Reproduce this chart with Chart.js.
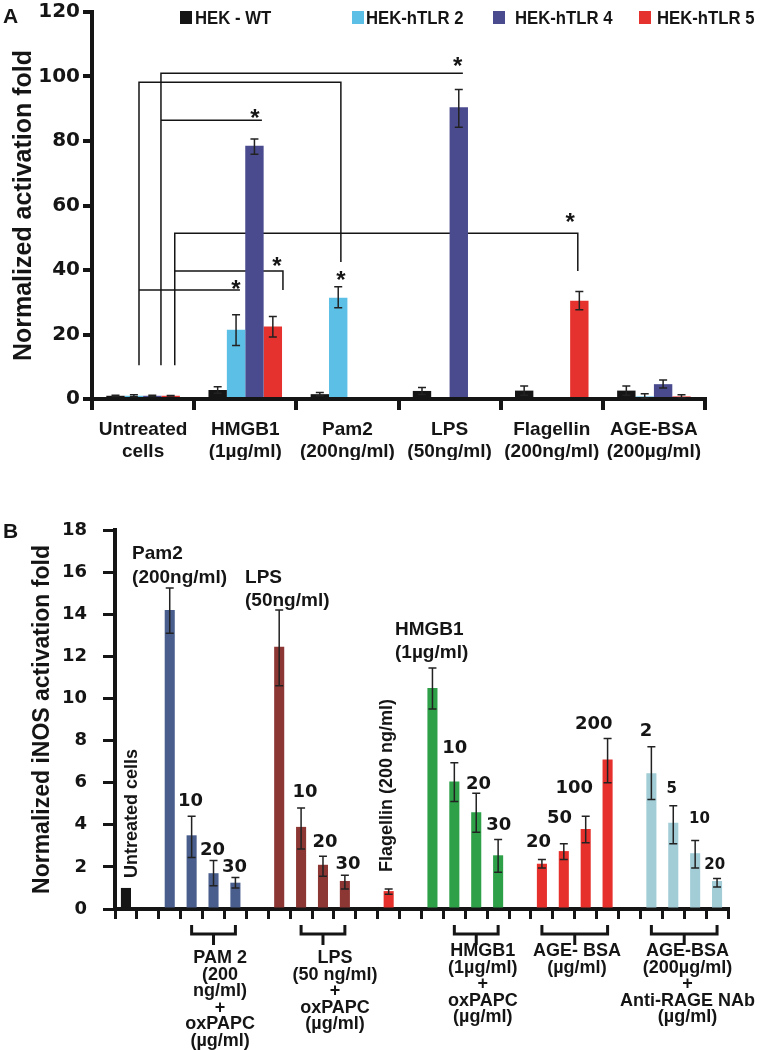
<!DOCTYPE html>
<html>
<head>
<meta charset="utf-8">
<script src="https://cdn.jsdelivr.net/npm/chart.js@4.4.0/dist/chart.umd.min.js"></script>
<style>
  body { margin: 0; background: #fff; width: 764px; height: 1050px; position: relative; overflow: hidden; }
  canvas { position: absolute; left: 0; }
  #cA { top: 0; }
  #cB { top: 460px; }
</style>
</head>
<body>
<canvas id="cA" width="764" height="460"></canvas>
<canvas id="cB" width="764" height="590"></canvas>
<script>
// ==================== PANEL A DATA ====================
const catsA = [["Untreated", "cells"], ["HMGB1", "(1µg/ml)"], ["Pam2", "(200ng/ml)"], ["LPS", "(50ng/ml)"], ["Flagellin", "(200ng/ml)"], ["AGE-BSA", "(200µg/ml)"]];
const seriesA = ["HEK - WT", "HEK-hTLR 2", "HEK-hTLR 4", "HEK-hTLR 5"];

const wtA   = [1.0, 2.8, 1.5, 2.5, 2.6, 2.6];
const tlr2A = [1.0, 21.5, 31.4, 0, 0, 0.8];
const tlr4A = [1.0, 78.5, 0, 90.5, 0, 4.6];
const tlr5A = [1.0, 22.5, 0, 0, 30.5, 0.8];

// error bar ends (upper / lower)
const wtHiA   = [1.2, 3.8, 2.0, 3.6, 4.0, 4.0];
const wtLoA   = [0.8, 1.8, 1.0, 1.4, 1.2, 1.2];
const tlr2HiA = [1.3, 26.1, 34.8, null, null, 1.6];
const tlr2LoA = [0.7, 16.6, 28.3, null, null, 0.2];
const tlr4HiA = [1.2, 80.6, null, 96.0, null, 5.9];
const tlr4LoA = [0.8, 75.9, null, 84.3, null, 3.4];
const tlr5HiA = [1.1, 25.6, null, null, 33.3, 1.3];
const tlr5LoA = [0.9, 19.2, null, null, 27.7, 0.4];

// significance brackets, [category position, value] points
const bracketsA = [
    [[0.175, 10.5], [0.175, 101], [3.13, 101]],
    [[-0.04, 10.5], [-0.04, 98.2], [1.936, 98.2], [1.936, 42.5]],
    [[0.175, 86.4], [1.163, 86.4]],
    [[0.31, 10.5], [0.31, 51.4], [4.255, 51.4], [4.255, 39.7]],
    [[0.31, 39.7], [1.369, 39.7], [1.369, 33.8]],
    [[-0.04, 33.8], [0.948, 33.8]]
];
const starsA = [[0.909, 36.0], [1.095, 88.9], [1.31, 43.1], [1.936, 38.8], [3.08, 105.2], [4.18, 56.6]];

// ==================== PANEL B DATA ====================
const slotsB = ["Untreated cells", "", "Pam2", "Pam2+oxPAPC 10", "Pam2+oxPAPC 20", "Pam2+oxPAPC 30", "",
    "LPS", "LPS+oxPAPC 10", "LPS+oxPAPC 20", "LPS+oxPAPC 30", "", "Flagellin", "",
    "HMGB1", "HMGB1+oxPAPC 10", "HMGB1+oxPAPC 20", "HMGB1+oxPAPC 30", "",
    "AGE-BSA 20", "AGE-BSA 50", "AGE-BSA 100", "AGE-BSA 200", "",
    "AGE-BSA+NAb 2", "AGE-BSA+NAb 5", "AGE-BSA+NAb 10", "AGE-BSA+NAb 20"];
const groupB  = ["ctrl", null, "pam", "pam", "pam", "pam", null, "lps", "lps", "lps", "lps", null, "flag", null,
    "hmgb", "hmgb", "hmgb", "hmgb", null, "age", "age", "age", "age", null, "nab", "nab", "nab", "nab"];
const valuesB = [1.0, null, 14.2, 3.5, 1.7, 1.25, null, 12.45, 3.9, 2.1, 1.33, null, 0.85, null,
    10.5, 6.05, 4.6, 2.55, null, 2.15, 2.75, 3.8, 7.1, null, 6.45, 4.1, 2.65, 1.33];
const errHiB  = [null, null, 15.25, 4.4, 2.3, 1.5, null, 14.2, 4.8, 2.5, 1.6, null, 0.95, null,
    11.45, 6.95, 5.5, 3.3, null, 2.35, 3.1, 4.4, 8.1, null, 7.7, 4.9, 3.25, 1.45];
const errLoB  = [null, null, 13.1, 2.45, 1.1, 1.0, null, 10.6, 2.85, 1.55, 0.95, null, 0.7, null,
    9.5, 5.1, 3.65, 1.75, null, 1.95, 2.35, 3.15, 6.0, null, 5.2, 3.1, 1.95, 1.05];

// dose labels above bars
const doseText = ["10", "20", "30", "10", "20", "30", "10", "20", "30", "20", "50", "100", "200", "2", "5", "10", "20"];

// treatment groups under the axis
const groupFrom = [3, 8, 15, 19, 24];
const groupTo   = [5, 10, 17, 22, 27];
const groupText = [
    ["PAM 2", "(200", "ng/ml)", "+", "oxPAPC", "(µg/ml)"],
    ["LPS", "(50 ng/ml)", "+", "oxPAPC", "(µg/ml)"],
    ["HMGB1", "(1µg/ml)", "+", "oxPAPC", "(µg/ml)"],
    ["AGE- BSA", "(µg/ml)"],
    ["AGE-BSA", "(200µg/ml)", "+", "Anti-RAGE NAb", "(µg/ml)"]
];

// ==================== STYLE ====================
const coloresA = ["#151515", "#5cbfe6", "#4a4a8f", "#e5322e"];
const coloresB = { ctrl: "#151515", pam: "#495e8c", lps: "#8c3734", flag: "#e5302c", hmgb: "#2da048", age: "#e5302c", nab: "#a2cdd7" };
const ARIAL = '"Liberation Sans", Arial, sans-serif';
const DEJA = '"DejaVu Sans", sans-serif';
const INK = "#151515";

Chart.defaults.color = INK;
Chart.defaults.animation = false;

function fuente(size, fam) { return "bold " + size + "px " + (fam || ARIAL); }

function dibujarErrores(chart, hiSets, loSets) {
    const { ctx } = chart;
    const y = chart.scales.y;
    ctx.save();
    ctx.strokeStyle = "#222";
    ctx.lineWidth = 1.5;
    chart.data.datasets.forEach((ds, i) => {
        chart.getDatasetMeta(i).data.forEach((bar, j) => {
            const hi = hiSets[i][j], lo = loSets[i][j];
            if (hi == null) return;
            const yh = y.getPixelForValue(hi), yl = y.getPixelForValue(lo);
            ctx.beginPath();
            ctx.moveTo(bar.x, yh); ctx.lineTo(bar.x, yl);
            ctx.moveTo(bar.x - 4, yh); ctx.lineTo(bar.x + 4, yh);
            ctx.moveTo(bar.x - 4, yl); ctx.lineTo(bar.x + 4, yl);
            ctx.stroke();
        });
    });
    ctx.restore();
}

// ==================== PANEL A ====================
const extrasA = {
    id: "extrasA",
    beforeDatasetsDraw(chart) {
        const { ctx, scales: { x, y } } = chart;
        ctx.save();
        ctx.strokeStyle = INK;
        ctx.lineWidth = 1.5;
        bracketsA.forEach(pts => {
            ctx.beginPath();
            pts.forEach((p, k) => {
                const px = x.getPixelForValue(p[0]), py = y.getPixelForValue(p[1]);
                if (k === 0) ctx.moveTo(px, py); else ctx.lineTo(px, py);
            });
            ctx.stroke();
        });
        ctx.restore();
    },
    afterDraw(chart) {
        const { ctx, scales: { x, y } } = chart;
        dibujarErrores(chart, [wtHiA, tlr2HiA, tlr4HiA, tlr5HiA], [wtLoA, tlr2LoA, tlr4LoA, tlr5LoA]);

        ctx.save();
        ctx.fillStyle = INK;
        ctx.textAlign = "center";
        ctx.textBaseline = "alphabetic";
        ctx.font = fuente(24);
        starsA.forEach(s => ctx.fillText("*", x.getPixelForValue(s[0]), y.getPixelForValue(s[1]) + 14));

        // panel letter
        ctx.textAlign = "left";
        ctx.font = fuente(21);
        ctx.fillText("A", 3, 23);

        // legend
        const cuadX = [180, 352, 493, 639];
        const textoX = [195, 366, 515, 657];
        chart.data.datasets.forEach((ds, i) => {
            ctx.fillStyle = ds.backgroundColor;
            ctx.fillRect(cuadX[i], 11, 12, 13);
            ctx.save();
            ctx.translate(textoX[i], 24);
            ctx.scale(0.88, 1);
            ctx.fillStyle = INK;
            ctx.font = fuente(19);
            ctx.fillText(ds.label, 0, 0);
            ctx.restore();
        });
        ctx.restore();
    }
};

new Chart(document.getElementById("cA"), {
    type: "bar",
    data: {
        labels: catsA,
        datasets: [wtA, tlr2A, tlr4A, tlr5A].map((d, i) => ({
            label: seriesA[i],
            data: d,
            backgroundColor: coloresA[i],
            borderWidth: 0,
            categoryPercentage: 0.72,
            barPercentage: 1.0
        }))
    },
    options: {
        responsive: false,
        devicePixelRatio: 1,
        layout: { padding: { top: 9, right: 59, left: 0, bottom: 0 } },
        plugins: { legend: { display: false }, tooltip: { enabled: false } },
        scales: {
            x: {
                grid: { offset: true, drawOnChartArea: false, tickLength: 11, lineWidth: 4, color: INK },
                border: { width: 4, color: INK },
                ticks: { font: { family: ARIAL, size: 19, weight: "bold", lineHeight: 1.15 }, padding: 9, maxRotation: 0, autoSkip: false, color: INK },
                afterFit: s => { s.height = 61; }
            },
            y: {
                min: 0, max: 120,
                ticks: { stepSize: 20, font: { family: DEJA, size: 20, weight: "bold", lineHeight: 0.9 }, padding: 3, color: INK },
                grid: { drawOnChartArea: false, tickLength: 9, lineWidth: 4, color: INK },
                border: { width: 4, color: INK },
                title: { display: true, text: "Normalized activation fold", font: { family: ARIAL, size: 25, weight: "bold" }, padding: { top: 9, bottom: 0 }, color: INK },
                afterFit: s => { s.width = 92; }
            }
        }
    },
    plugins: [extrasA]
});

// ==================== PANEL B ====================
const extrasB = {
    id: "extrasB",
    afterDraw(chart) {
        const { ctx, chartArea, scales: { x, y } } = chart;
        dibujarErrores(chart, [errHiB], [errLoB]);

        ctx.save();
        ctx.fillStyle = INK;
        ctx.textBaseline = "alphabetic";

        // treatment names above the first bars
        const notas = [
            ["Pam2", 0.28, 16.6], ["(200ng/ml)", 0.28, 15.5],
            ["LPS", 5.44, 15.5], ["(50ng/ml)", 5.44, 14.4],
            ["HMGB1", 12.29, 13.0], ["(1µg/ml)", 12.29, 11.9]
        ];
        ctx.textAlign = "left";
        ctx.font = fuente(19);
        notas.forEach(n => ctx.fillText(n[0], x.getPixelForValue(n[1]), y.getPixelForValue(n[2])));

        // dose numbers
        const doseX = [2.95, 3.95, 4.96, 8.18, 9.09, 10.14, 15.02, 16.1, 17.03, 18.84, 19.8, 20.48, 21.37, 23.75, 24.93, 26.2, 26.89];
        const doseY = [4.9, 2.55, 1.75, 5.3, 2.95, 1.9, 7.4, 5.7, 3.75, 2.95, 4.1, 5.5, 8.55, 8.2, 5.5, 4.1, 1.9];
        const doseSize = [18, 18, 18, 18, 18, 18, 18, 18, 18, 18, 18, 18, 18, 18, 15, 15, 15];
        ctx.textAlign = "center";
        doseText.forEach((t, i) => {
            ctx.font = fuente(doseSize[i], DEJA);
            ctx.fillText(t, x.getPixelForValue(doseX[i]), y.getPixelForValue(doseY[i]));
        });

        // vertical labels
        ctx.font = fuente(18);
        ctx.textAlign = "left";
        [["Untreated cells", 0.5, 1.47], ["Flagellin (200 ng/ml)", 12.15, 1.76]].forEach(v => {
            ctx.save();
            ctx.translate(x.getPixelForValue(v[1]), y.getPixelForValue(v[2]));
            ctx.rotate(-Math.PI / 2);
            ctx.fillText(v[0], 0, 0);
            ctx.restore();
        });

        // group brackets below the axis
        const base = chartArea.bottom;
        const textoX = [4.3, 9.55, 16.3, 20.6, 25.65];
        const primera = [54, 54, 47, 47, 47];
        ctx.strokeStyle = INK;
        ctx.lineWidth = 3;
        ctx.textAlign = "center";
        ctx.font = fuente(18);
        groupText.forEach((lineas, g) => {
            const x1 = x.getPixelForValue(groupFrom[g]);
            const x2 = x.getPixelForValue(groupTo[g]);
            const xm = (x1 + x2) / 2;
            ctx.beginPath();
            ctx.moveTo(x1, base + 16); ctx.lineTo(x1, base + 25); ctx.lineTo(x2, base + 25); ctx.lineTo(x2, base + 16);
            ctx.moveTo(xm, base + 25); ctx.lineTo(xm, base + 36);
            ctx.stroke();
            const tx = x.getPixelForValue(textoX[g]);
            lineas.forEach((l, k) => ctx.fillText(l, tx, base + primera[g] + k * 16.5));
        });

        ctx.textAlign = "left";
        ctx.font = fuente(21);
        ctx.fillText("B", 3, 78);
        ctx.restore();
    }
};

new Chart(document.getElementById("cB"), {
    type: "bar",
    data: {
        labels: slotsB,
        datasets: [{
            label: "iNOS",
            data: valuesB,
            backgroundColor: groupB.map(g => g ? coloresB[g] : "transparent"),
            borderWidth: 0,
            categoryPercentage: 1.0,
            barPercentage: 0.46
        }]
    },
    options: {
        responsive: false,
        devicePixelRatio: 1,
        layout: { padding: { top: 70, right: 36, left: 0, bottom: 0 } },
        plugins: { legend: { display: false }, tooltip: { enabled: false } },
        scales: {
            x: {
                grid: { offset: true, drawOnChartArea: false, tickLength: 10, lineWidth: 3, color: INK },
                border: { width: 4, color: INK },
                ticks: { display: false, autoSkip: false },
                afterFit: s => { s.height = 141; }
            },
            y: {
                min: 0, max: 18,
                ticks: { stepSize: 2, font: { family: DEJA, size: 18, weight: "bold", lineHeight: 1 }, padding: 16, color: INK },
                grid: { drawOnChartArea: false, tickLength: 12, lineWidth: 3, color: INK },
                border: { width: 4, color: INK },
                title: { display: true, text: "Normalized iNOS activation fold", font: { family: ARIAL, size: 23, weight: "bold" }, padding: { top: 29, bottom: 0 }, color: INK },
                afterFit: s => { s.width = 115; }
            }
        }
    },
    plugins: [extrasB]
});
</script>
</body>
</html>
